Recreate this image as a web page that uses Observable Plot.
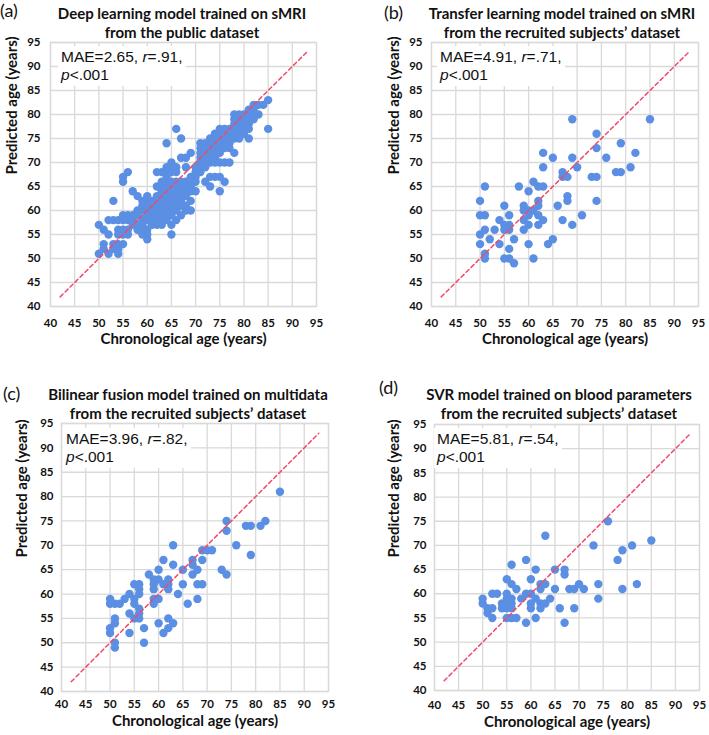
<!DOCTYPE html>
<html>
<head>
<meta charset="utf-8">
<script src="https://cdn.jsdelivr.net/npm/d3@7"></script>
<script src="https://cdn.jsdelivr.net/npm/@observablehq/plot@0.6"></script>
<style>
  body { margin: 0; background: #fff; }
  #fig { position: relative; width: 709px; height: 735px; overflow: hidden; background: #fff; }
  .panel { position: absolute; }
  .plabel { position: absolute; font-family: Lato, sans-serif; font-size: 18px; line-height: 20px; color: #111; }
  .title { position: absolute; font-family: Lato, sans-serif; font-weight: bold; font-size: 15px; line-height: 19px;
           text-align: center; white-space: nowrap; transform: translateX(-50%); color: #111; }
  .note { position: absolute; font-family: "Liberation Sans", Arial, sans-serif; font-size: 15.5px; line-height: 18px;
          background: #fff; padding: 2px 3px; white-space: nowrap; color: #111; }
</style>
</head>
<body>
<div id="fig"></div>
<script>
// ---- shared axis data ----
const axisTicks = [40, 45, 50, 55, 60, 65, 70, 75, 80, 85, 90, 95];
const identityLine = [42, 93];
const xTitle = "Chronological age (years)";
const yTitle = "Predicted age (years)";

// ---- panel labels / titles / stats ----
const panelLetters = ["(a)", "(b)", "(c)", "(d)"];
const panelTitles = [
  ["Deep learning model trained on sMRI", "from the public dataset"],
  ["Transfer learning model trained on sMRI", "from the recruited subjects\u2019 dataset"],
  ["Bilinear fusion model trained on multidata", "from the recruited subjects\u2019 dataset"],
  ["SVR model trained on blood parameters", "from the recruited subjects\u2019 dataset"]
];
const panelMAE = ["2.65", "4.91", "3.96", "5.81"];
const panelR = [".91", ".71", ".82", ".54"];
const panelP = ["<.001", "<.001", "<.001", "<.001"];

// ---- (a) deep learning, public dataset: chronological age -> list of predicted ages ----
const agesA = {
  50: [57, 51],
  51: [56, 53, 52],
  52: [58, 55, 51],
  53: [62, 58, 53, 52],
  54: [58, 56, 55, 53, 52, 51],
  55: [67, 66, 59, 58, 56, 55, 53],
  56: [68, 59, 58, 56, 55],
  57: [64, 59, 58, 57],
  58: [63, 60, 59, 57, 56],
  59: [62, 61, 60, 58, 57, 56, 55],
  60: [63, 62, 61, 60, 59, 58, 56, 55, 54],
  61: [62, 61, 60, 59, 58, 57],
  62: [68, 65, 63, 62, 61, 60, 59, 58, 57],
  63: [68, 66, 65, 64, 63, 62, 61, 60, 59, 58, 57],
  64: [74, 69, 68, 67, 66, 65, 64, 63, 62, 61, 60, 59, 58],
  65: [70, 69, 68, 66, 65, 64, 63, 62, 61, 60, 59, 57, 55],
  66: [77, 69, 68, 66, 65, 64, 63, 62, 61, 60, 58],
  67: [75, 71, 66, 65, 64, 63, 62, 61, 59],
  68: [71, 69, 66, 65, 64, 63, 61, 60],
  69: [72, 67, 66, 65, 64, 62, 60],
  70: [69, 68, 67, 66, 64],
  71: [74, 73, 72, 71, 70, 69, 68],
  72: [74, 73, 72, 71, 70, 69, 66],
  73: [75, 74, 73, 72, 71, 70, 67, 65],
  74: [76, 75, 74, 73, 72, 71, 70, 67],
  75: [77, 76, 75, 74, 73, 72, 70, 67, 64],
  76: [77, 76, 75, 74, 73, 70, 66],
  77: [77, 76, 75, 74, 73, 70],
  78: [80, 79, 78, 77, 76, 75, 72],
  79: [80, 79, 78, 77, 76, 75],
  80: [80, 79, 78, 77, 76],
  81: [81, 80, 79, 78, 77, 75],
  82: [82, 81, 80, 79],
  83: [82, 80],
  84: [82],
  85: [83, 77]
};

// ---- (b) transfer learning, recruited subjects ----
const agesB = {
  50: [62, 59, 55, 53], 51: [65, 59, 56, 51, 50], 52: [54], 53: [56], 54: [58, 53],
  55: [61, 57, 56, 50], 56: [59, 57, 56, 52, 50], 57: [54, 49], 58: [65],
  59: [61, 60, 58, 56], 60: [64, 60, 59, 57, 53], 61: [66, 60, 50],
  62: [65, 62, 61, 59, 57], 63: [72, 69, 65, 58], 64: [53], 65: [71, 54], 66: [61],
  67: [68, 67, 58], 68: [67, 63, 62], 69: [79, 71, 57], 70: [69], 71: [59], 73: [67],
  74: [76, 73, 67, 62], 76: [71], 78: [68], 79: [74, 68], 81: [69], 82: [72], 85: [79]
};

// ---- (c) bilinear fusion, recruited subjects ----
const agesC = {
  50: [59, 58, 53, 52], 51: [58, 55, 54, 50, 49], 52: [58], 53: [59], 54: [60, 56, 52],
  55: [62, 59, 58, 55], 56: [62, 61, 60, 57, 56, 55], 57: [53, 50], 58: [64],
  59: [63, 62, 61, 59, 58], 60: [65, 63, 59, 54], 61: [67, 62, 52],
  62: [63, 62, 61, 55, 53], 63: [70, 66, 54], 64: [60], 65: [65, 62], 66: [58],
  67: [67, 66, 64], 68: [65, 62, 59], 69: [69, 67, 62], 70: [69], 71: [69], 73: [65],
  74: [75, 73, 64], 76: [70], 78: [74], 79: [74, 68], 81: [74], 82: [75], 85: [81]
};

// ---- (d) SVR, blood parameters, recruited subjects ----
const agesD = {
  50: [59, 58], 51: [57, 56], 52: [60, 57, 55], 53: [60], 54: [58, 57],
  55: [63, 60, 59, 58, 57, 55], 56: [66, 62, 59, 58, 57, 55], 57: [61, 55], 58: [59],
  59: [67, 60, 54], 60: [63, 60, 58, 57], 61: [65, 59, 55], 62: [62, 61, 58, 57],
  63: [72, 62, 58], 64: [59], 65: [65, 61], 66: [57], 67: [65, 64, 54], 68: [61],
  69: [61, 57], 70: [62], 71: [61], 73: [70], 74: [62, 59], 76: [75], 78: [67],
  79: [69, 61], 81: [70], 82: [62], 85: [71]
};

const panelData = [agesA, agesB, agesC, agesD];

// ---- layout per panel (container geometry only) ----
const layout = [
  { left: 0,   top: 0,   w: 354, h: 365, mL: 50, mR: 38, mT: 42, mB: 59, xpad: 12, ypad: 10, xtdy: 37, ytdx: -38,
    letter: [0, 0], title: [182, 3.5], note: [58, 46] },
  { left: 354, top: 0,   w: 355, h: 365, mL: 77, mR: 11, mT: 42, mB: 59, xpad: 12, ypad: 9,  xtdy: 37, ytdx: -37,
    letter: [384, 2], title: [562, 3.5], note: [437, 46] },
  { left: 0,   top: 370, w: 354, h: 365, mL: 61, mR: 26, mT: 53, mB: 44, xpad: 8,  ypad: 8,  xtdy: 34, ytdx: -39,
    letter: [3, 383], title: [188, 384.5], note: [63, 428] },
  { left: 354, top: 370, w: 355, h: 365, mL: 80, mR: 10, mT: 54, mB: 45, xpad: 10, ypad: 8,  xtdy: 36, ytdx: -40,
    letter: [379, 377], title: [559, 384.5], note: [434, 428] }
];

const fig = document.getElementById("fig");

panelData.forEach((ages, i) => {
  const L = layout[i];
  const pts = [];
  Object.keys(ages).forEach(k => ages[k].forEach(v => pts.push({ chrono: +k, pred: v })));

  const chart = Plot.plot({
    width: L.w, height: L.h,
    marginLeft: L.mL, marginRight: L.mR, marginTop: L.mT, marginBottom: L.mB,
    x: { domain: [40, 95] },
    y: { domain: [40, 95] },
    style: { fontFamily: "Lato, sans-serif", fontSize: "11.5px", fontWeight: "bold", color: "#111", background: "transparent" },
    marks: [
      Plot.gridX(axisTicks, { stroke: "#d9d9d9", strokeOpacity: 1, strokeWidth: 1.3 }),
      Plot.gridY(axisTicks, { stroke: "#d9d9d9", strokeOpacity: 1, strokeWidth: 1.3 }),
      Plot.frame({ stroke: "#d9d9d9", strokeWidth: 1.3 }),
      Plot.axisX(axisTicks, { tickSize: 0, tickPadding: L.xpad, label: null }),
      Plot.axisY(axisTicks, { tickSize: 0, tickPadding: L.ypad, label: null }),
      Plot.dot(pts, { x: "chrono", y: "pred", r: 4.2, fill: "#5b8fe3", stroke: "none" }),
      Plot.line(identityLine, { x: d => d, y: d => d, stroke: "#f04a68", strokeWidth: 1.5, strokeDasharray: "4,3" }),
      Plot.text([xTitle], { frameAnchor: "bottom", dy: L.xtdy, fontSize: 15, fontWeight: "bold", fill: "#111" }),
      Plot.text([yTitle], { frameAnchor: "left", rotate: -90, dx: L.ytdx, fontSize: 15, fontWeight: "bold", fill: "#111" })
    ]
  });
  const wrap = document.createElement("div");
  wrap.className = "panel";
  wrap.style.left = L.left + "px";
  wrap.style.top = L.top + "px";
  wrap.appendChild(chart);
  fig.appendChild(wrap);

  const letter = document.createElement("div");
  letter.className = "plabel";
  letter.style.left = L.letter[0] + "px";
  letter.style.top = L.letter[1] + "px";
  letter.textContent = panelLetters[i];
  fig.appendChild(letter);

  const title = document.createElement("div");
  title.className = "title";
  title.style.left = L.title[0] + "px";
  title.style.top = L.title[1] + "px";
  title.innerHTML = panelTitles[i].join("<br>");
  fig.appendChild(title);

  const note = document.createElement("div");
  note.className = "note";
  note.style.left = L.note[0] + "px";
  note.style.top = L.note[1] + "px";
  note.innerHTML = "MAE=" + panelMAE[i] + ", <i>r</i>=" + panelR[i] + ",<br><i>p</i>" + panelP[i].replace("<", "&lt;");
  fig.appendChild(note);
});
</script>
</body>
</html>
